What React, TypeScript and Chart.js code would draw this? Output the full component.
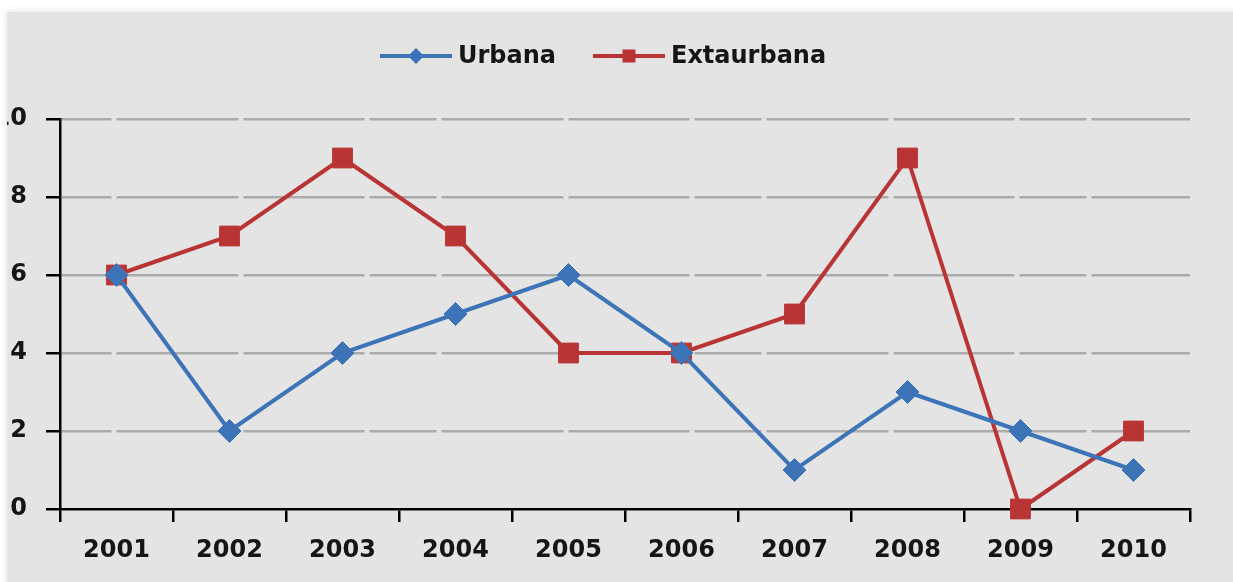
import React, { useEffect, useRef } from "react";
import { Chart, registerables } from "chart.js";

Chart.register(...registerables);

// ---- data ----
const years: string[] = ["2001", "2002", "2003", "2004", "2005", "2006", "2007", "2008", "2009", "2010"];
const urbana: number[] = [6, 2, 4, 5, 6, 4, 1, 3, 2, 1];
const extaurbana: number[] = [6, 7, 9, 7, 4, 4, 5, 9, 0, 2];
const seriesNames: string[] = ["Urbana", "Extaurbana"];
const yMin = 0;
const yMax = 10;
const yStep = 2;

// ---- styles ----
const BLUE = "#3d74b8";
const RED = "#b93434";
const TEXT = "#151515";
const FONT_FAMILY = "'DejaVu Sans', Verdana, sans-serif";

const legendPlugin = {
  id: "lineMarkerLegend",
  afterDraw(chart: any) {
    const ctx: CanvasRenderingContext2D = chart.ctx;
    ctx.save();
    ctx.font = `bold 24px ${FONT_FAMILY}`;
    ctx.textBaseline = "middle";
    ctx.textAlign = "left";
    const y = 56;
    let x = 380;
    chart.data.datasets.forEach((ds: any) => {
      const lineW = 72;
      ctx.strokeStyle = ds.borderColor;
      ctx.lineWidth = 4;
      ctx.beginPath();
      ctx.moveTo(x, y);
      ctx.lineTo(x + lineW, y);
      ctx.stroke();
      const cx = x + lineW / 2;
      ctx.fillStyle = ds.backgroundColor;
      ctx.beginPath();
      if (ds.pointStyle === "rectRot") {
        const r = 8;
        ctx.moveTo(cx, y - r);
        ctx.lineTo(cx + r, y);
        ctx.lineTo(cx, y + r);
        ctx.lineTo(cx - r, y);
        ctx.closePath();
      } else {
        const s = 13;
        ctx.rect(cx - s / 2, y - s / 2, s, s);
      }
      ctx.fill();
      ctx.fillStyle = TEXT;
      const tx = x + lineW + 6;
      ctx.fillText(ds.label, tx, y + 1);
      x = tx + ctx.measureText(ds.label).width + 37;
    });
    ctx.restore();
  },
};

export default function App() {
  const ref = useRef<HTMLCanvasElement | null>(null);

  useEffect(() => {
    if (!ref.current) return;
    const chart = new Chart(ref.current, {
      type: "line",
      data: {
        labels: years,
        datasets: [
          {
            label: seriesNames[0],
            data: urbana,
            borderColor: BLUE,
            backgroundColor: BLUE,
            borderWidth: 4,
            pointStyle: "rectRot",
            pointRadius: 11.5,
            pointBorderColor: BLUE,
            pointBackgroundColor: BLUE,
            pointBorderWidth: 1,
            tension: 0,
            clip: false as any,
          },
          {
            label: seriesNames[1],
            data: extaurbana,
            borderColor: RED,
            backgroundColor: RED,
            borderWidth: 4,
            pointStyle: "rect",
            pointRadius: 14,
            pointBorderColor: RED,
            pointBackgroundColor: RED,
            pointBorderWidth: 1,
            tension: 0,
            clip: false as any,
          },
        ],
      },
      options: {
        responsive: false,
        animation: false,
        devicePixelRatio: 1,
        layout: { padding: { top: 119, right: 43, left: 0, bottom: 0 } },
        plugins: {
          legend: { display: false },
          tooltip: { enabled: false },
        },
        scales: {
          x: {
            type: "category",
            offset: true,
            grid: {
              offset: true,
              drawOnChartArea: false,
              color: "#000",
              lineWidth: 2.5,
              tickLength: 13,
            },
            border: { color: "#000", width: 2.5 },
            ticks: {
              font: { family: FONT_FAMILY, size: 24, weight: "bold" },
              color: TEXT,
              padding: 14,
              maxRotation: 0,
              autoSkip: false,
            },
            afterFit: (s: any) => {
              s.height = 73;
            },
          },
          y: {
            min: yMin,
            max: yMax,
            ticks: {
              stepSize: yStep,
              font: { family: FONT_FAMILY, size: 24, weight: "bold" },
              color: TEXT,
              padding: 19,
            },
            grid: {
              color: (c: any) => (c.tick && c.tick.value === 0 ? "rgba(0,0,0,0)" : "#ababab"),
              lineWidth: 2.5,
              tickColor: "#000",
              tickWidth: 2.5,
              tickLength: 14,
            },
            border: {
              color: "#000",
              width: 2.5,
              dash: [122, 5, 121, 5, 67, 5],
              dashOffset: 270,
            },
            afterFit: (s: any) => {
              s.width = 60;
            },
          },
        },
      } as any,
      plugins: [legendPlugin],
    });
    return () => chart.destroy();
  }, []);

  return (
    <div
      style={{
        position: "fixed",
        left: 0,
        top: 0,
        width: 1233,
        height: 582,
        background: "#ffffff",
        overflow: "hidden",
      }}
    >
      <div
        style={{
          position: "absolute",
          left: 7,
          top: 12,
          width: 1260,
          height: 600,
          background: "#e4e4e4",
          overflow: "hidden",
          boxShadow: "0 0 8px rgba(0,0,0,0.12)",
        }}
      >
        <canvas
          ref={ref}
          width={1233}
          height={582}
          style={{ position: "absolute", left: -7, top: -12, width: 1233, height: 582 }}
        />
      </div>
    </div>
  );
}
